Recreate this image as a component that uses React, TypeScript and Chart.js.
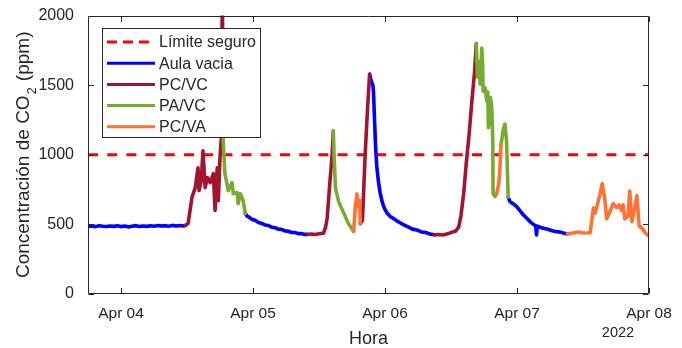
import React, { useEffect, useRef } from 'react';
import { Chart, registerables } from 'chart.js';

Chart.register(...registerables);

const FONT = '"Liberation Sans", Arial, Helvetica, sans-serif';
const TEXT = '#262626';

// Time axis: hours since Apr 04 00:00 (2022)
const xMinHour = -6;
const xMaxHour = 96;
const xTickHours = [0, 24, 48, 72, 96];
const xTickLabels = ['Apr 04', 'Apr 05', 'Apr 06', 'Apr 07', 'Apr 08'];
const yearLabel = '2022';
const yTicks = [0, 500, 1000, 1500, 2000];
const xTitle = 'Hora';

// Safe limit
const limitHours = [-6, 96];
const limitPpm = [1000, 1000];

// Aula vacia (null = gap between segments)
const aulaHours = [
  -6, -5.3, -4.6, -4, -3.3, -2.6, -2, -1.3, -0.6, 0, 0.7, 1.4, 2, 2.7, 3.4, 4, 4.7, 5.4, 6, 6.7, 7.4, 8, 8.7, 9.4, 10, 10.7, 11.3, 11.7,
  null,
  22.6, 22.9, 23.3, 23.8, 24.4, 25, 25.6, 26.2, 26.8, 27.4, 28, 28.6, 29.2, 29.8, 30.4, 31, 31.6, 32.2, 32.8, 33.4, 33.9,
  null,
  45.2, 45.5, 45.8, 45.9, 46.1, 46.3, 46.5, 46.8, 47.1, 47.5, 47.9, 48.4, 49, 49.6, 50.2, 50.8, 51.5, 52.2, 53, 53.8, 54.6, 55.4, 56.2, 57,
  null,
  70.4, 70.7, 71.2, 71.6, 72.1, 72.5, 73, 73.5, 74, 74.5, 75, 75.4, 75.55, 75.7, 76.2, 76.8, 77.6, 78.4, 79.2, 80, 80.6, 81.2,
];
const aulaPpm = [
  486, 489, 484, 490, 487, 485, 489, 486, 490, 484, 488, 482, 487, 491, 485, 489, 486, 490, 487, 492, 488, 491, 486, 493, 489, 492, 488, 492,
  null,
  579, 560, 552, 536, 530, 513, 507, 496, 492, 480, 477, 466, 464, 453, 452, 442, 442, 434, 434, 428, 428,
  null,
  1579, 1529, 1500, 1457, 1250, 1050, 920, 810, 730, 660, 615, 580, 555, 540, 525, 510, 495, 482, 466, 460, 446, 442, 430, 425,
  null,
  695, 665, 650, 640, 621, 600, 575, 555, 535, 515, 500, 490, 425, 488, 480, 472, 465, 455, 448, 443, 437, 432,
];

// PC/VC
const pcvcHours = [
  11.7, 12.2, 12.9, 13.5, 14.0, 14.2, 14.6, 14.9, 15.3, 15.7, 16.2, 16.8, 17.1, 17.5, 17.7, 18.0, 18.3, 18.42, 18.55,
  null,
  33.9, 34.6, 35.3, 36, 36.8, 37.2, 37.5, 37.9, 38.4, 38.6,
  null,
  43.5, 43.9, 44.1, 44.4, 44.8, 45.2,
  null,
  57, 57.8, 58.6, 59.4, 60.1, 60.8, 61.4, 61.8, 62.3, 62.8, 63.3, 63.8, 64.3, 64.6,
];
const pcvcPpm = [
  492, 507, 693, 764, 907, 743, 814, 1029, 764, 836, 800, 864, 600, 907, 671, 979, 1150, 2400, 1121,
  null,
  428, 431, 427, 433, 436, 480, 550, 764, 1007, 1171,
  null,
  505, 529, 721, 1007, 1314, 1579,
  null,
  425, 428, 424, 432, 443, 450, 480, 560, 720, 950, 1150, 1390, 1600, 1800,
];

// PA/VC
const pavcHours = [
  18.55, 18.9, 19.5, 20.2, 20.4, 21.1, 21.3, 21.7, 22.2, 22.6,
  null,
  38.6, 38.75, 39.0, 39.6, 40.4, 41.3, 42.3,
  null,
  64.6, 64.8, 65.0, 65.3, 65.6, 65.75, 65.85, 66.2, 66.5, 66.7, 66.8, 67.2, 67.4, 67.6, 67.65, 68.0, 68.3,
  null,
  69.1, 69.5, 69.8, 70.1, 70.4,
];
const pavcPpm = [
  1121, 864, 743, 800, 721, 729, 650, 721, 671, 579,
  null,
  1171, 980, 760, 660, 590, 510, 450,
  null,
  1800, 1560, 1671, 1507, 1766, 1650, 1457, 1481, 1386, 1450, 1195, 1410, 1338, 1100, 721, 700, 721,
  null,
  1076, 1180, 1221, 1100, 695,
];

// PC/VA
const pcvaHours = [
  42.3, 42.6, 42.9, 43.2, 43.4, 43.5,
  null,
  68.3, 68.7, 68.9, 69.1,
  null,
  81.2, 82.2, 83.1, 84.2, 85.3, 85.9, 86.2, 86.6, 87.1, 87.5, 88.0, 88.3, 88.9, 89.5, 90.1, 90.6, 91.0, 91.3, 91.6, 92.2, 92.5, 92.9, 93.3, 93.8, 94.2, 94.8, 95.3, 96,
];
const pcvaPpm = [
  450, 624, 719, 624, 671, 505,
  null,
  721, 793, 909, 1076,
  null,
  432, 438, 445, 438, 440, 620, 579, 640, 721, 793, 671, 540, 590, 650, 621, 640, 600, 640, 540, 560, 740, 520, 600, 707, 490, 470, 440, 415,
];

const seriesLabels = ['Límite seguro', 'Aula vacia', 'PC/VC', 'PA/VC', 'PC/VA'];
const seriesColors = ['#FF0000', '#0000FF', '#A2142F', '#77AC30', '#FF7233'];

function toPoints(hours: (number | null)[], ppm: (number | null)[]) {
  return hours.map((h, i) => ({
    x: h === null ? (hours[i - 1] as number) : h,
    y: ppm[i],
  }));
}

const matlabPlugin = {
  id: 'matlabDecor',
  afterDraw(chart: any) {
    const { ctx, chartArea: a, scales } = chart;
    const xs = scales.x;
    const ys = scales.y;
    ctx.save();

    // axes box
    const L = Math.round(a.left) + 0.5;
    const R = Math.round(a.right) - 0.5;
    const T = Math.round(a.top) + 0.5;
    const B = Math.round(a.bottom) - 0.5;
    ctx.strokeStyle = TEXT;
    ctx.lineWidth = 1;
    ctx.setLineDash([]);
    ctx.beginPath();
    ctx.rect(L, T, R - L, B - T);
    const tl = 5.5;
    xTickHours.forEach((v) => {
      const px = Math.round(xs.getPixelForValue(v)) + 0.5;
      ctx.moveTo(px, B);
      ctx.lineTo(px, B - tl);
      ctx.moveTo(px, T);
      ctx.lineTo(px, T + tl);
    });
    yTicks.forEach((v) => {
      const py = Math.round(ys.getPixelForValue(v)) + 0.5;
      ctx.moveTo(L, py);
      ctx.lineTo(L + tl, py);
      ctx.moveTo(R, py);
      ctx.lineTo(R - tl, py);
    });
    ctx.stroke();

    // axis titles
    ctx.fillStyle = TEXT;
    ctx.textBaseline = 'alphabetic';
    ctx.textAlign = 'center';
    ctx.font = `18px ${FONT}`;
    ctx.fillText(xTitle, (a.left + a.right) / 2, 344);
    ctx.font = `14.5px ${FONT}`;
    ctx.fillText(yearLabel, 618, 337);

    // y title with subscript
    ctx.save();
    ctx.translate(22, (a.top + a.bottom) / 2);
    ctx.rotate(-Math.PI / 2);
    const big = `19px ${FONT}`;
    const small = `12.5px ${FONT}`;
    const p1 = 'Concentración de CO';
    const p2 = '2';
    const p3 = ' (ppm)';
    ctx.font = big;
    const w1 = ctx.measureText(p1).width;
    const w3 = ctx.measureText(p3).width;
    ctx.font = small;
    const w2 = ctx.measureText(p2).width + 2;
    let sx = -(w1 + w2 + w3) / 2;
    ctx.textAlign = 'left';
    ctx.font = big;
    ctx.fillText(p1, sx, 7);
    sx += w1;
    ctx.font = small;
    ctx.fillText(p2, sx + 1, 14);
    sx += w2;
    ctx.font = big;
    ctx.fillText(p3, sx, 7);
    ctx.restore();

    // legend
    const lx = 102.5, ly = 28.5, lw = 158, lh = 109;
    ctx.fillStyle = '#FFFFFF';
    ctx.fillRect(lx, ly, lw, lh);
    ctx.strokeStyle = TEXT;
    ctx.lineWidth = 1;
    ctx.strokeRect(lx, ly, lw, lh);
    ctx.font = `16px ${FONT}`;
    ctx.textAlign = 'left';
    ctx.textBaseline = 'middle';
    seriesLabels.forEach((label, i) => {
      const ry = 42 + i * 21.2;
      ctx.strokeStyle = seriesColors[i];
      ctx.lineWidth = 3;
      ctx.setLineDash(i === 0 ? [10, 6] : []);
      ctx.beginPath();
      ctx.moveTo(107, ry);
      ctx.lineTo(155, ry);
      ctx.stroke();
      ctx.setLineDash([]);
      ctx.fillStyle = TEXT;
      ctx.fillText(label, 159, ry + 1);
    });
    ctx.restore();
  },
};

export default function App() {
  const ref = useRef<HTMLCanvasElement>(null);

  useEffect(() => {
    if (!ref.current) return;
    const base = { pointRadius: 0, borderWidth: 3.6, tension: 0, fill: false, spanGaps: false, borderJoinStyle: 'round', borderCapStyle: 'round' };
    const chart = new Chart(ref.current, {
      type: 'line',
      data: {
        datasets: [
          { ...base, label: seriesLabels[0], data: toPoints(limitHours, limitPpm), borderColor: seriesColors[0], borderDash: [10, 9.2], borderWidth: 3, borderCapStyle: 'butt', order: 10 },
          { ...base, label: seriesLabels[1], data: toPoints(aulaHours, aulaPpm), borderColor: seriesColors[1], order: 4 },
          { ...base, label: seriesLabels[2], data: toPoints(pcvcHours, pcvcPpm), borderColor: seriesColors[2], order: 3 },
          { ...base, label: seriesLabels[3], data: toPoints(pavcHours, pavcPpm), borderColor: seriesColors[3], order: 2 },
          { ...base, label: seriesLabels[4], data: toPoints(pcvaHours, pcvaPpm), borderColor: seriesColors[4], order: 1 },
        ],
      },
      options: {
        animation: false,
        responsive: false,
        devicePixelRatio: 1,
        layout: { padding: { left: 0, top: 14, right: 33, bottom: 0 } },
        plugins: { legend: { display: false }, tooltip: { enabled: false } },
        scales: {
          x: {
            type: 'linear',
            min: xMinHour,
            max: xMaxHour,
            grid: { display: false },
            border: { display: false },
            afterBuildTicks: (s: any) => { s.ticks = xTickHours.map((v) => ({ value: v })); },
            afterFit: (s: any) => { s.height = 54; },
            ticks: {
              autoSkip: false,
              maxRotation: 0,
              padding: 2,
              color: TEXT,
              font: { family: FONT, size: 15.5 },
              callback: (v: any) => xTickLabels[xTickHours.indexOf(Number(v))] ?? '',
            },
          },
          y: {
            type: 'linear',
            min: 0,
            max: 2000,
            grid: { display: false },
            border: { display: false },
            afterBuildTicks: (s: any) => { s.ticks = yTicks.map((v) => ({ value: v })); },
            afterFit: (s: any) => { s.width = 88; },
            ticks: {
              padding: 6,
              color: TEXT,
              font: { family: FONT, size: 16 },
              callback: (v: any) => String(v),
            },
          },
        },
      },
      plugins: [matlabPlugin],
    } as any);
    return () => chart.destroy();
  }, []);

  return (
    <div style={{ position: 'absolute', left: 0, top: 0, width: 682, height: 348, background: '#fff' }}>
      <canvas ref={ref} width={682} height={348} style={{ width: 682, height: 348, display: 'block' }} />
    </div>
  );
}
